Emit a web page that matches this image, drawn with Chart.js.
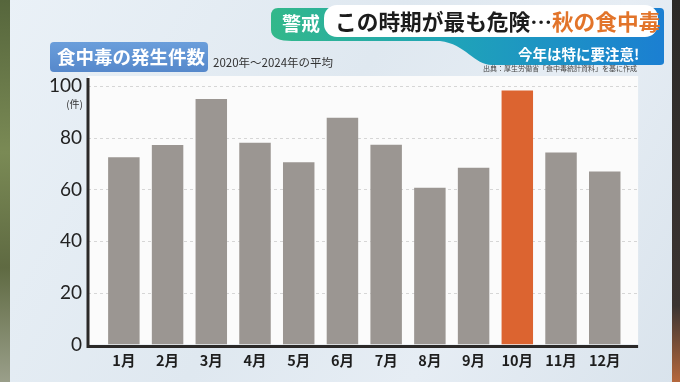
<!DOCTYPE html>
<html lang="ja">
<head>
<meta charset="utf-8">
<script src="https://cdn.jsdelivr.net/npm/chart.js@4/dist/chart.umd.min.js"></script>
<style>
  html, body { margin: 0; padding: 0; }
  body {
    width: 680px; height: 382px; overflow: hidden; position: relative;
    background: linear-gradient(120deg, #eaf1f7 0%, #dfe8f0 45%, #e6edf4 70%, #d9e3ec 100%);
    font-family: 'Noto Sans CJK JP', sans-serif;
  }
  #leftEdge { position: absolute; left: 0; top: 0; width: 10px; height: 382px;
    background: linear-gradient(180deg, #56663c, #7a8a55 40%, #5f6a42 70%, #9a9f8a); }
  #rightEdge { position: absolute; right: 0; top: 0; width: 8px; height: 382px;
    background: linear-gradient(180deg, #2c2a28, #3b3431 80%, #b5683d); }
  #chartBox { position: absolute; left: 0; top: 0; width: 680px; height: 382px; }
  #banner { position: absolute; left: 0; top: 0; }
  .txt { position: absolute; white-space: nowrap; }
  #titleBox { position: absolute; left: 50px; top: 42px; width: 158px; height: 30px; border-radius: 4px;
    background: linear-gradient(180deg, #6a9edb, #5688cb); }
</style>
</head>
<body>
<div id="leftEdge"></div>
<div id="rightEdge"></div>
<div id="chartBox"><canvas id="myChart" width="680" height="382"></canvas></div>

<svg id="banner" width="680" height="80">
  <defs>
    <linearGradient id="teal" x1="0" y1="0" x2="1" y2="0">
      <stop offset="0" stop-color="#33b88a"/>
      <stop offset="0.45" stop-color="#1fa4b8"/>
      <stop offset="1" stop-color="#1b7fd2"/>
    </linearGradient>
  </defs>
  <path d="M278,8 L660,8 Q664,8 664,12 L664,62 Q664,65 660,65 L492,65 C474,65 466,44 440,41 L292,41 C280,41 271,38 271,30 L271,16 Q271,8 278,8 Z" fill="url(#teal)"/>
  <rect x="324" y="5" width="334" height="32" rx="13" fill="#ffffff"/>
</svg>

<div class="txt" style="left:282px; top:9px; font-size:19px; font-weight:700; color:#fff;">警戒</div>
<div class="txt" style="left:335px; top:5px; font-size:21.7px; font-weight:700; color:#1c1c1c;">この時期が最も危険…<span style="color:#e2742a;">秋の食中毒</span></div>
<div class="txt" style="left:518px; top:43px; font-size:14.5px; font-weight:700; color:#fff;">今年は特に要注意!</div>
<div class="txt" style="left:483px; top:63px; font-size:7px; color:#444;">出典：厚生労働省「食中毒統計資料」を基に作成</div>

<div id="titleBox"></div>
<div class="txt" style="left:57px; top:43px; font-size:18.5px; font-weight:700; color:#fff;">食中毒の発生件数</div>
<div class="txt" style="left:213px; top:54px; font-size:11.5px; color:#333;">2020年～2024年の平均</div>

<script>
// 食中毒の発生件数（2020年～2024年の平均）
const months = ['1月', '2月', '3月', '4月', '5月', '6月', '7月', '8月', '9月', '10月', '11月', '12月']
const cases = [72.4, 77.2, 95.0, 78.0, 70.5, 87.7, 77.3, 60.6, 68.4, 98.3, 74.3, 66.9]
const yTicks = [0, 20, 40, 60, 80, 100]
const highlightMonth = '10月'
const yUnit = '(件)'

const barGray = '#9b9692'
const barOrange = '#dc6430'

// panel, dashed grid and the thick axis lines
const panelPlugin = {
  id: 'panel',
  beforeDraw (chart) {
    const { ctx, chartArea } = chart
    const y = chart.scales.y
    const axisX = chartArea.left - 14
    const right = chartArea.right + 11.5
    ctx.save()
    ctx.fillStyle = '#fbfbfb'
    ctx.fillRect(axisX, 76, right - axisX, chartArea.bottom - 76)
    ctx.strokeStyle = '#d6d6d6'
    ctx.lineWidth = 1
    ctx.setLineDash([3, 3])
    yTicks.forEach(v => {
      if (v === 0) return
      const py = Math.round(y.getPixelForValue(v)) + 0.5
      ctx.beginPath()
      ctx.moveTo(axisX, py)
      ctx.lineTo(right, py)
      ctx.stroke()
    })
    ctx.restore()
  },
  afterDatasetsDraw (chart) {
    const { ctx, chartArea } = chart
    const axisX = chartArea.left - 14
    const right = chartArea.right + 11.5
    const bottom = chartArea.bottom + 2
    ctx.save()
    ctx.strokeStyle = '#2b2928'
    ctx.lineWidth = 3
    ctx.beginPath()
    ctx.moveTo(axisX, 78)
    ctx.lineTo(axisX, bottom)
    ctx.lineTo(right, bottom)
    ctx.stroke()
    ctx.fillStyle = '#333'
    ctx.font = '10px "Noto Sans CJK JP"'
    ctx.textAlign = 'right'
    ctx.textBaseline = 'middle'
    ctx.fillText(yUnit, chartArea.left - 19, chart.scales.y.getPixelForValue(100) + 18)
    ctx.restore()
  }
}

const ctx = document.getElementById('myChart').getContext('2d')
new Chart(ctx, {
  type: 'bar',
  data: {
    labels: months,
    datasets: [{
      data: cases,
      backgroundColor: months.map(m => m === highlightMonth ? barOrange : barGray),
      barPercentage: 0.72,
      categoryPercentage: 1
    }]
  },
  options: {
    responsive: false,
    animation: false,
    layout: { padding: { left: 0, right: 53.4, top: 86, bottom: 0 } },
    plugins: { legend: { display: false }, tooltip: { enabled: false } },
    scales: {
      x: {
        grid: { display: false, drawTicks: false },
        border: { display: false },
        ticks: {
          padding: 7,
          color: '#1e1e1e',
          font: { family: '"Noto Sans CJK JP"', size: 14.5, weight: '600' }
        },
        afterFit (scale) { scale.height = 37.5 }
      },
      y: {
        min: 0,
        max: 100,
        grid: { display: false, drawTicks: false },
        border: { display: false },
        ticks: {
          stepSize: 20,
          padding: 20,
          color: '#222',
          font: { family: 'Lato', size: 19 }
        },
        afterFit (scale) { scale.width = 102 }
      }
    }
  },
  plugins: [panelPlugin]
})
</script>
</body>
</html>
